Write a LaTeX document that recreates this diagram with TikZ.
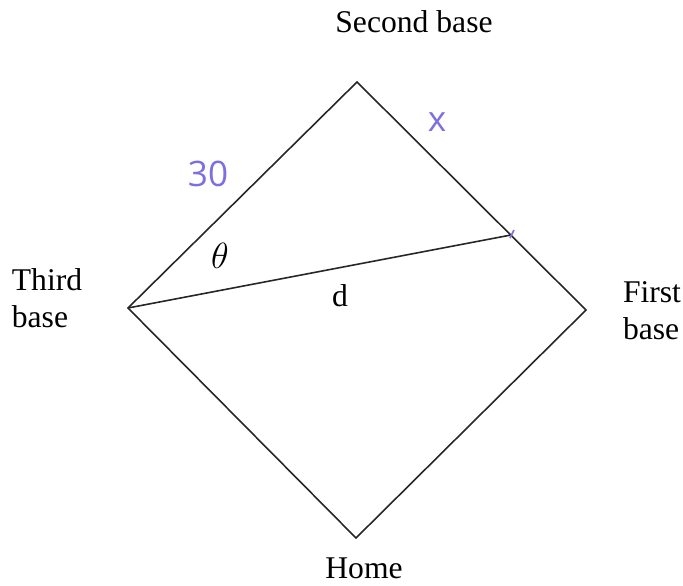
\documentclass[tikz,border=0pt]{standalone}
\usepackage{fontspec}
\setmainfont{Liberation Serif}
\newfontfamily\handfont{Open Sans}
\definecolor{pen}{RGB}{125,110,225}
\tikzset{
  field/.style = {line width = 0.9pt, black!85},
  base label/.style = {font = \fontsize{18}{21}\selectfont, align = left},
  pen label/.style = {text = pen, font = \handfont\fontsize{20}{20}\selectfont}
}
\begin{document}
\begin{tikzpicture}[x = 0.02cm, y = -0.02cm]
\useasboundingbox (0, 0) rectangle (683, 585);
\coordinate (second) at (357, 82);
\coordinate (third) at (128, 308);
\coordinate (first) at (586, 310);
\coordinate (home) at (356, 538);
\coordinate (hit) at (511, 235);
\draw[field] (second)--(first)--(home)--(third)--cycle;
\draw[field] (third)--(hit);
\node[base label] (secondlbl) at (414, 22) {Second base};
\node[base label] (thirdlbl) at (47, 298) {Third\\base};
\node[base label] (firstlbl) at (652, 311) {First\\base};
\node[base label] (homelbl) at (364, 568) {Home};
\node[base label, font = \fontsize{22}{22}\selectfont] (angle) at (220, 256) {$\theta$};
\node[base label] (dist) at (340, 296) {d};
\node[pen label] (side) at (208, 174) {30};
\node[pen label] (part) at (437, 122) {x};
\draw[pen, line width = 0.9pt] (hit) ++(-1, 3)--++(4, -8);
\end{tikzpicture}
\end{document}
